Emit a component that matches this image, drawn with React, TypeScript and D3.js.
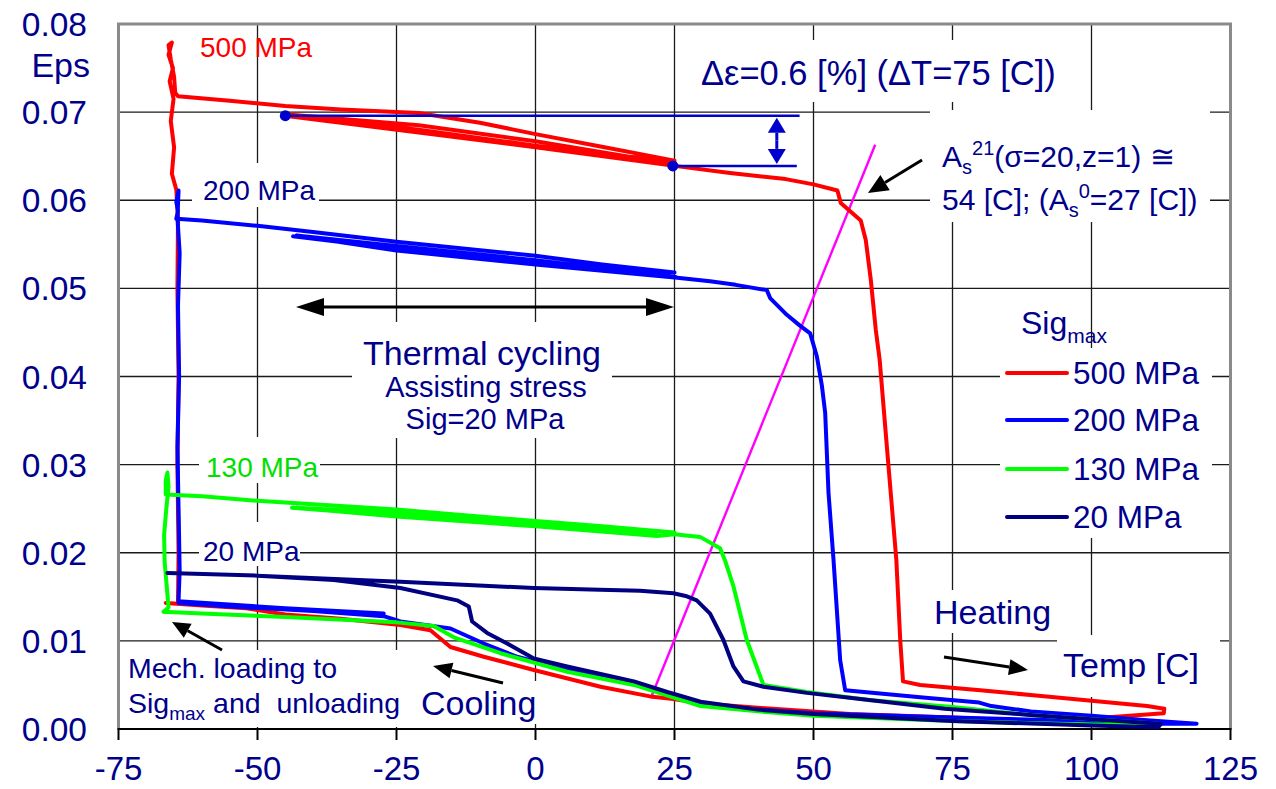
import React, { useEffect } from 'react';
import * as d3 from 'd3';

// ---------- data (Temp [C], Eps) ----------
const xTickValues = [-75, -50, -25, 0, 25, 50, 75, 100, 125];
const yTickValues = [0, 0.01, 0.02, 0.03, 0.04, 0.05, 0.06, 0.07, 0.08];

const seriesNames = ['500 MPa', '200 MPa', '130 MPa', '20 MPa'];
const seriesColors = ['#FF0000', '#0000FF', '#00FF00', '#000080'];

const red500: [number, number][] = [
  [-66.5, 0.0143], [-64.3, 0.0142], [-64.2, 0.02], [-64.4, 0.03], [-64.2, 0.04], [-64.4, 0.05], [-64.3, 0.058],
  [-64.6, 0.0612], [-65.4, 0.063], [-65.0, 0.066], [-65.6, 0.069], [-65.1, 0.0715], [-65.8, 0.0735], [-65.2, 0.075],
  [-66.0, 0.0765], [-65.4, 0.0779], [-66.0, 0.0776], [-65.6, 0.076], [-65.0, 0.074], [-64.8, 0.0722], [-64.3, 0.0718],
  [-55, 0.0713], [-45, 0.0707], [-35, 0.0703], [-21, 0.0699], [-10, 0.0688], [0, 0.0675], [11.7, 0.0661], [25, 0.0645],
  [12, 0.0652], [0, 0.0662], [-21, 0.068], [-44, 0.0697],
  [-21, 0.0685], [0, 0.0667], [25, 0.0641],
  [0, 0.066], [-21, 0.0677], [-44, 0.0695],
  [-21, 0.0678], [0, 0.066], [25, 0.0639],
  [35, 0.0631], [45, 0.0624], [50, 0.0618], [54.3, 0.0611], [54.9, 0.0597], [58.5, 0.0577], [59.4, 0.0555],
  [60.3, 0.051], [61.2, 0.0453], [61.9, 0.0419], [63.4, 0.0305], [64.9, 0.0192], [65.6, 0.0101], [66.1, 0.0054],
  [69.2, 0.005], [80, 0.0044], [90, 0.0038], [100, 0.0032], [110, 0.0026], [113.1, 0.0023], [113, 0.0018],
  [100, 0.0012], [93, 0.0008], [75, 0.0013], [56.6, 0.0017], [40, 0.0024], [30, 0.0029], [24.8, 0.0034],
  [20.6, 0.0037], [11.7, 0.0048], [-0.3, 0.0067], [-9.3, 0.0082], [-15.3, 0.0093], [-18.9, 0.0112],
  [-24.3, 0.0118], [-35, 0.0125], [-45, 0.013], [-52, 0.0137], [-60, 0.014], [-66.5, 0.0143],
];

const blue200: [number, number][] = [
  [-27.3, 0.0131], [-45, 0.0137], [-64.2, 0.0145],
  [-64.0, 0.018], [-64.2, 0.025], [-64.4, 0.032], [-64.1, 0.04], [-64.3, 0.048], [-64.0, 0.054], [-64.4, 0.058],
  [-64.2, 0.0611], [-64.6, 0.0598], [-64.3, 0.0588], [-64.6, 0.0579],
  [-60, 0.0577], [-50, 0.0571], [-40, 0.0564], [-25, 0.0553], [0, 0.0537], [12, 0.0527], [25, 0.0518],
  [0, 0.0529], [-25, 0.0546], [-43.6, 0.0559],
  [-25, 0.0545], [0, 0.053], [25.2, 0.0513],
  [0, 0.0532], [-25, 0.0548], [-43, 0.056],
  [-25, 0.0543], [0, 0.0527], [25.5, 0.0512],
  [31.4, 0.0508], [36, 0.0504], [41.6, 0.0498], [42.2, 0.0489], [45.2, 0.047], [47.5, 0.0458], [49.4, 0.0449],
  [50.6, 0.0423], [51.5, 0.039], [52.1, 0.0359], [52.7, 0.0268], [53.6, 0.0192], [54.8, 0.0078], [55.7, 0.0044],
  [69.2, 0.0036], [79.8, 0.003], [82, 0.0026], [89.1, 0.002], [100, 0.0015], [110, 0.001], [118.9, 0.0006],
  [110, 0.0006], [100, 0.0009], [75, 0.0013], [50, 0.0018], [40, 0.0022], [29.7, 0.0028], [17.7, 0.0052],
  [5.7, 0.0067], [-3.3, 0.0082], [-9.3, 0.0097], [-15.3, 0.0114], [-24.3, 0.0122], [-27.3, 0.0128],
  [-40, 0.0134], [-55, 0.0139], [-64.2, 0.0143],
];

const green130: [number, number][] = [
  [-66.9, 0.0133], [-66.0, 0.0138], [-66.3, 0.016], [-66.7, 0.019], [-66.8, 0.022], [-66.4, 0.025], [-66.0, 0.0275],
  [-66.2, 0.0291], [-66.5, 0.0282], [-66.5, 0.0266],
  [-60, 0.0264], [-50, 0.0259], [-25, 0.0249], [0, 0.0236], [12, 0.023], [25, 0.0223],
  [0, 0.0234], [-25, 0.0244], [-43.8, 0.0251],
  [-25, 0.0242], [0, 0.0231], [21.7, 0.022],
  [0, 0.0233], [-25, 0.0245], [-43, 0.0251],
  [-25, 0.0241], [0, 0.023], [21.9, 0.0219],
  [25, 0.0221], [29.6, 0.0218], [33.2, 0.0205], [34.1, 0.0191], [35.6, 0.0162], [38, 0.0101], [41, 0.005],
  [48.8, 0.0042], [60, 0.0033], [75, 0.0025], [89, 0.0016], [100, 0.0011], [112, 0.0006],
  [100, 0.0005], [75, 0.0009], [50, 0.0015], [40, 0.002], [29.7, 0.0026], [17.7, 0.005], [5.7, 0.0065],
  [-6.3, 0.0086], [-14.7, 0.0104], [-18.3, 0.0117], [-25, 0.0121], [-45, 0.0127], [-60, 0.0131], [-66.9, 0.0133],
];

const navy20: [number, number][] = [
  [-66.2, 0.0177], [-50, 0.0174], [-24.3, 0.0167], [-0.3, 0.016], [11.6, 0.0158], [18.8, 0.0157], [24.8, 0.0154],
  [27, 0.0151], [29, 0.0146], [31.4, 0.0131], [33.8, 0.0101], [35.6, 0.0071], [37.4, 0.0054], [41, 0.0048],
  [48.8, 0.0041], [60, 0.0033], [73.6, 0.0023], [89, 0.0016], [100, 0.0011], [112.5, 0.0006],
  [112, 0.0002], [100, 0.0004], [75, 0.0009], [50, 0.0017], [40, 0.0022], [29.7, 0.0031], [23.7, 0.0042],
  [17.7, 0.0054], [5.7, 0.0071], [-0.3, 0.008], [-5.1, 0.0097], [-8.7, 0.0109], [-11.4, 0.0122], [-12, 0.0139],
  [-14.1, 0.0146], [-24.3, 0.016], [-36.3, 0.0169], [-50, 0.0174], [-66.2, 0.0177],
];

const seriesData = [red500, blue200, green130, navy20];

const asLine: [number, number][] = [[20.8, 0.0036], [61.1, 0.0663]];

// Delta-eps marker levels
const deltaTop: [number, number][] = [[-45, 0.0696], [47.5, 0.0696]];
const deltaBottom: [number, number][] = [[24.7, 0.0639], [47, 0.0639]];
const deltaArrowT = 43.4;

// ---------- layout ----------
const W = 1276;
const H = 789;
const x = d3.scaleLinear().domain([-75, 125]).range([118.5, 1230.5]);
const y = d3.scaleLinear().domain([0, 0.08]).range([729, 24]);
const FONT = "'Liberation Sans', Arial, Helvetica, sans-serif";
const NAVY = '#00008B';

const lineGen = d3.line<[number, number]>().x(d => x(d[0])).y(d => y(d[1]));

function Arrow({ x1, y1, x2, y2, color = '#000', w = 3, head = 18, hw = 8 }: any) {
  const dx = x2 - x1, dy = y2 - y1;
  const len = Math.sqrt(dx * dx + dy * dy);
  const ux = dx / len, uy = dy / len;
  const bx = x2 - ux * head, by = y2 - uy * head;
  const px = -uy, py = ux;
  return (
    <g>
      <line x1={x1} y1={y1} x2={bx} y2={by} stroke={color} strokeWidth={w} />
      <polygon points={`${x2},${y2} ${bx + px * hw},${by + py * hw} ${bx - px * hw},${by - py * hw}`} fill={color} />
    </g>
  );
}

const whiteBoxes = [
  [690, 40, 378, 62],
  [930, 110, 280, 112],
  [1000, 348, 212, 190],
  [928, 590, 128, 43],
  [1057, 635, 163, 62],
  [352, 322, 260, 116],
  [192, 163, 127, 44],
  [199, 437, 121, 46],
  [199, 522, 101, 44],
  [122, 650, 284, 77],
  [412, 681, 133, 43],
];

export default function App() {
  useEffect(() => {
    document.body.style.margin = '0';
  }, []);

  const gridX = xTickValues.slice(1, -1);
  const gridY = yTickValues.slice(1, -1);
  const legendY = [373, 420, 469, 517];

  return (
    <svg width={W} height={H} style={{ position: 'absolute', left: 0, top: 0, background: '#fff' }} fontFamily={FONT}>
      <rect x={0} y={0} width={W} height={H} fill="#fff" />
      {/* grid */}
      {gridX.map(t => (
        <line key={'gx' + t} x1={x(t)} x2={x(t)} y1={y(0.08)} y2={y(0)} stroke="#1a1a1a" strokeWidth={1.3} />
      ))}
      {gridY.map(v => (
        <line key={'gy' + v} x1={x(-75)} x2={x(125)} y1={y(v)} y2={y(v)} stroke="#1a1a1a" strokeWidth={1.3} />
      ))}
      {/* text backgrounds */}
      {whiteBoxes.map((b, i) => (
        <rect key={'wb' + i} x={b[0]} y={b[1]} width={b[2]} height={b[3]} fill="#fff" />
      ))}
      {/* frame */}
      <path d={`M${x(-75)},${y(0)} L${x(-75)},${y(0.08)} L${x(125)},${y(0.08)} L${x(125)},${y(0)}`} fill="none" stroke="#8a8a8a" strokeWidth={3} />
      <line x1={x(-75) - 1} x2={x(125) + 1} y1={y(0)} y2={y(0)} stroke="#000" strokeWidth={2} />
      {xTickValues.map(t => (
        <line key={'xt' + t} x1={x(t)} x2={x(t)} y1={y(0)} y2={y(0) + 11} stroke="#000" strokeWidth={2} />
      ))}
      {/* tick labels */}
      {xTickValues.map(t => (
        <text key={'xl' + t} x={x(t)} y={780} textAnchor="middle" fontSize={33} fill={NAVY}>{t}</text>
      ))}
      {yTickValues.map(v => (
        <text key={'yl' + v} x={87} y={y(v) + 12} textAnchor="end" fontSize={33.5} fill={NAVY}>{v.toFixed(2)}</text>
      ))}
      <text x={90} y={77} textAnchor="end" fontSize={34} fill={NAVY}>Eps</text>

      {/* magenta As line */}
      <path d={lineGen(asLine) || ''} stroke="#FF00FF" strokeWidth={2.4} fill="none" />

      {/* curves */}
      {seriesData.map((s, i) => (
        <path key={'s' + i} d={lineGen(s) || ''} fill="none" stroke={seriesColors[i]} strokeWidth={4}
          strokeLinejoin="round" strokeLinecap="round" />
      ))}

      {/* delta eps marker */}
      <path d={lineGen(deltaTop) || ''} stroke="#0000CC" strokeWidth={2.5} />
      <path d={lineGen(deltaBottom) || ''} stroke="#0000CC" strokeWidth={2.5} />
      <circle cx={x(deltaTop[0][0])} cy={y(deltaTop[0][1])} r={5.5} fill="#0000CC" />
      <circle cx={x(deltaBottom[0][0])} cy={y(deltaBottom[0][1])} r={5.5} fill="#0000CC" />
      <Arrow x1={x(deltaArrowT)} y1={(y(deltaTop[0][1]) + y(deltaBottom[0][1])) / 2} x2={x(deltaArrowT)} y2={y(deltaTop[0][1]) + 2} color="#0000CC" w={3} head={15} hw={9} />
      <Arrow x1={x(deltaArrowT)} y1={(y(deltaTop[0][1]) + y(deltaBottom[0][1])) / 2} x2={x(deltaArrowT)} y2={y(deltaBottom[0][1]) - 2} color="#0000CC" w={3} head={15} hw={9} />

      {/* thermal cycling double arrow */}
      <Arrow x1={485} y1={307} x2={296} y2={307} w={3} head={28} hw={9} />
      <Arrow x1={485} y1={307} x2={674} y2={307} w={3} head={28} hw={9} />

      {/* other arrows */}
      <Arrow x1={922} y1={160} x2={868} y2={193} w={3} head={20} hw={9} />
      <Arrow x1={222} y1={650} x2={172} y2={622} w={3} head={18} hw={8} />
      <Arrow x1={503} y1={683} x2={433} y2={666} w={3} head={19} hw={8} />
      <Arrow x1={944} y1={657} x2={1028} y2={670} w={3} head={19} hw={8} />

      {/* curve labels */}
      <text x={200} y={57} fontSize={28} fill="#FF0000">500 MPa</text>
      <text x={203} y={200} fontSize={28} fill={NAVY}>200 MPa</text>
      <text x={206} y={477} fontSize={28} fill="#00E000">130 MPa</text>
      <text x={203} y={561} fontSize={28} fill={NAVY}>20 MPa</text>

      {/* annotations */}
      <text x={701} y={85} fontSize={34.5} fill={NAVY}>Δε=0.6 [%] (ΔT=75 [C])</text>
      <text x={942} y={167} fontSize={30} fill={NAVY}>
        A<tspan fontSize={20} dy={7}>s</tspan><tspan fontSize={20} dy={-19}>21</tspan><tspan dy={12}>(σ=20,z=1) ≅</tspan>
      </text>
      <text x={942} y={210} fontSize={30} fill={NAVY}>
        54 [C]; (A<tspan fontSize={20} dy={7}>s</tspan><tspan fontSize={20} dy={-19}>0</tspan><tspan dy={12}>=27 [C])</tspan>
      </text>
      <text x={482} y={365} textAnchor="middle" fontSize={34} fill={NAVY}>Thermal cycling</text>
      <text x={486} y={397} textAnchor="middle" fontSize={29} fill={NAVY}>Assisting stress</text>
      <text x={485} y={429} textAnchor="middle" fontSize={29} fill={NAVY}>Sig=20 MPa</text>
      <text x={934} y={624} fontSize={34} fill={NAVY}>Heating</text>
      <text x={1063} y={677} fontSize={34} fill={NAVY}>Temp [C]</text>
      <text x={421} y={715} fontSize={34} fill={NAVY}>Cooling</text>
      <text x={128} y={678} fontSize={28.5} fill={NAVY}>Mech. loading to</text>
      <text x={128} y={713} fontSize={28.5} fill={NAVY} xmlSpace="preserve">
        Sig<tspan fontSize={19} dy={7}>max</tspan><tspan dy={-7}>{' and  unloading'}</tspan>
      </text>

      {/* legend */}
      <text x={1021} y={334} fontSize={32} fill={NAVY}>
        Sig<tspan fontSize={21} dy={9}>max</tspan>
      </text>
      {seriesNames.map((n, i) => (
        <g key={'lg' + i}>
          <line x1={1007} x2={1067} y1={legendY[i]} y2={legendY[i]} stroke={seriesColors[i]} strokeWidth={4} strokeLinecap="round" />
          <text x={1073} y={legendY[i] + 11} fontSize={31.5} fill={NAVY}>{n}</text>
        </g>
      ))}
    </svg>
  );
}
